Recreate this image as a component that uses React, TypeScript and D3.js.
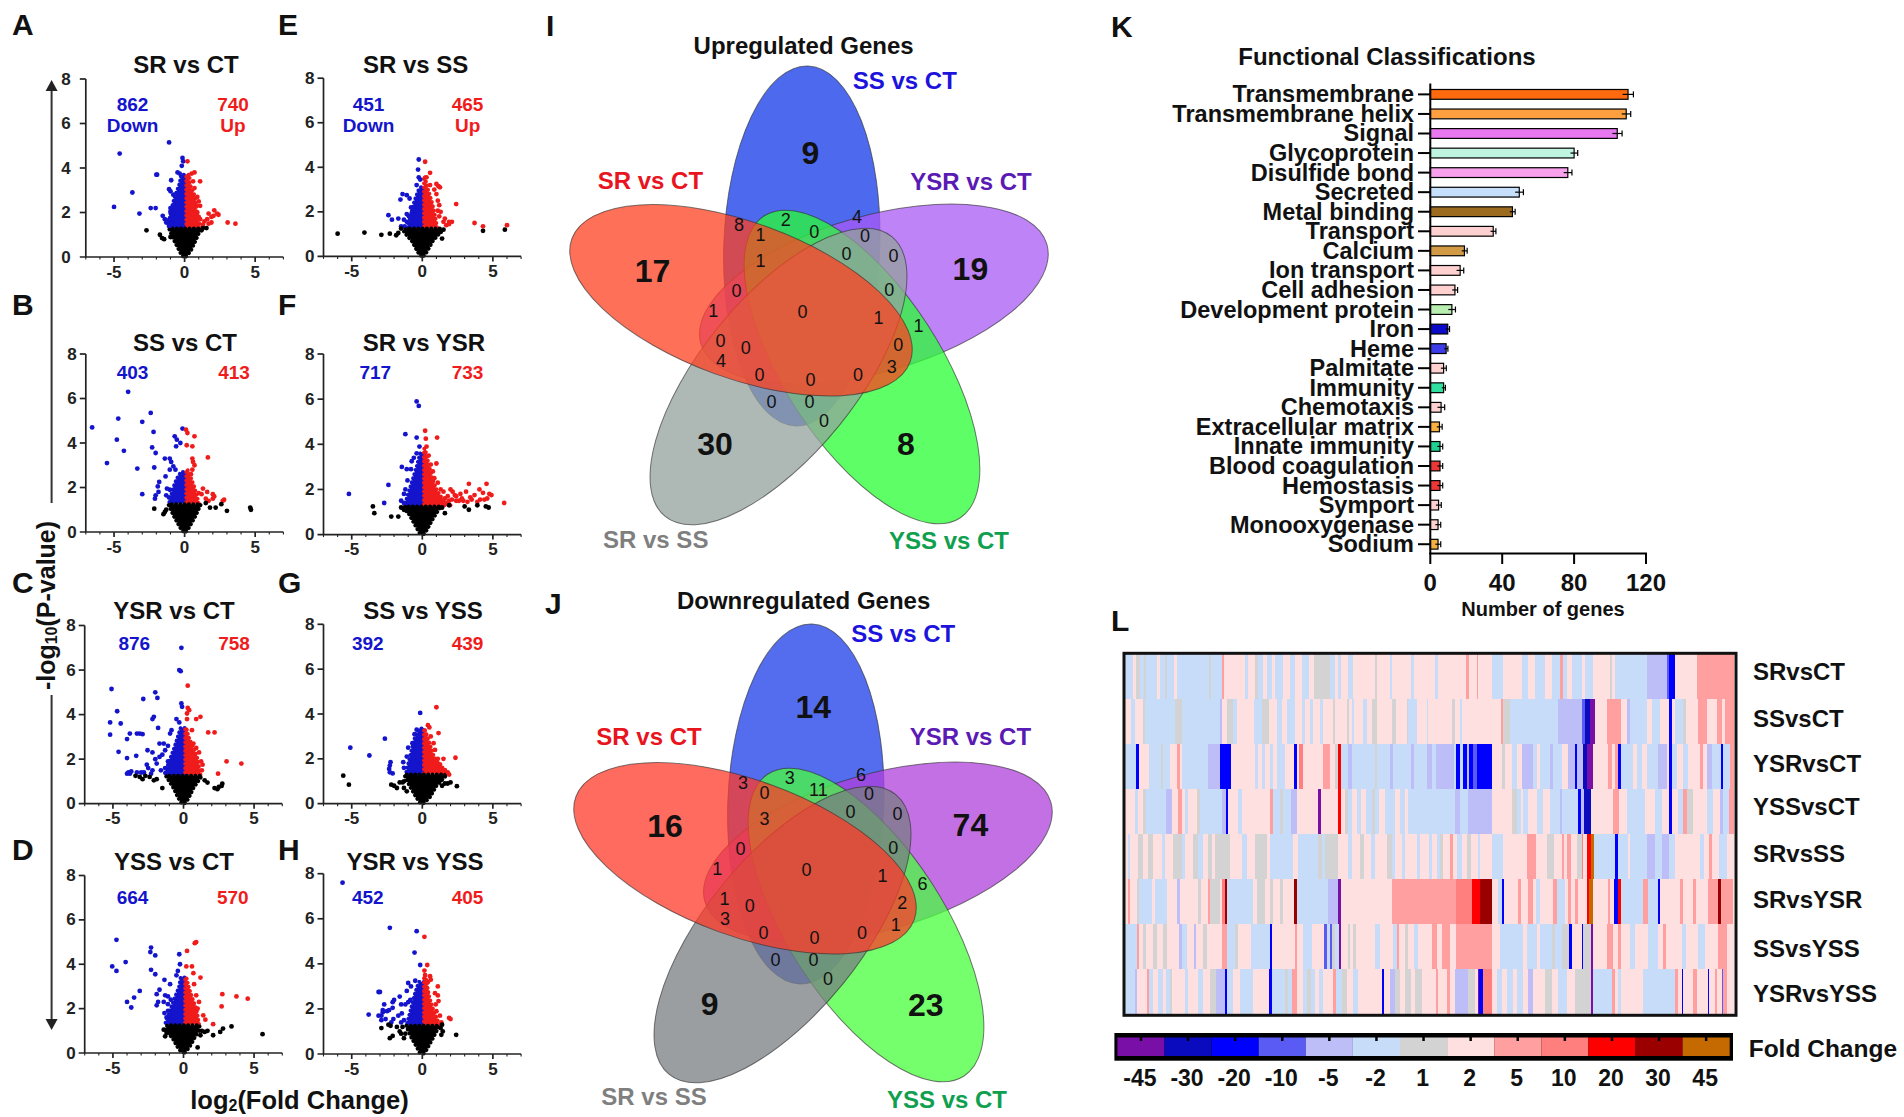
import * as d3 from 'd3';

type Pt = [number, number];
type Fan = [number, number, number];
type Run = [number, number];

const FONT = '"Liberation Sans", Arial, sans-serif';
const BLUE = '#1414cc';
const RED = '#f01c1c';

// ── Volcano plots: outliers, dense core kept as [y, xLeft, xRight] outlines ──
const srCtDown: Pt[] = [[-1.1, 5.15], [-4.6, 4.65], [-0.15, 4.45], [-0.1, 4.3], [-0.2, 4.1], [-0.5, 3.8], [-0.35, 3.75], [-2, 3.7], [-1.95, 3.7], [-3.7, 2.9], [-0.95, 3.45], [-1.1, 3.05], [-1, 2.95], [-0.8, 2.8], [-5, 2.25], [-2.4, 2.2], [-2.05, 2.2], [-3.2, 1.95], [-1, 2.2], [-1, 2.05], [-0.95, 1.8], [-1.55, 1.85], [-1.4, 1.7], [-1.25, 1.65], [-1.3, 1.55], [-1.1, 1.45], [-1.05, 1.4], [-0.85, 1.5], [-0.9, 1.7], [-0.8, 1.95]];
const srCtUp: Pt[] = [[0.2, 4.3], [0.7, 3.8], [0.5, 3.75], [1.1, 3.4], [0.7, 3.1], [0.6, 3.4], [0.9, 2.7], [1, 2.5], [1.1, 2.3], [2.1, 2.1], [2.3, 1.95], [1.7, 1.95], [2.05, 1.85], [1.9, 1.8], [2.4, 1.9], [3.05, 1.55], [3.6, 1.5], [1.6, 1.7], [1.4, 1.6], [1.7, 1.5], [1.9, 1.55], [1.3, 1.45], [1, 1.5], [1.1, 1.7], [0.9, 2], [1, 1.8], [0.85, 2.3]];
const srCtNs: Pt[] = [[-2.7, 1.2], [-1.75, 1], [-1.6, 0.85], [-1.45, 0.8], [-1, 0.9], [1.3, 1.3], [1.55, 1.3], [1.2, 1.2]];
const srCtDownFan: Fan[] = [[1.3, -1.15, 0.12], [2, -1, 0.12], [2.7, -0.7, 0.12], [3.3, -0.35, 0.12], [3.7, -0.25, 0.12]];
const srCtUpFan: Fan[] = [[1.3, 0.12, 1.1], [2, 0.12, 0.85], [2.7, 0.12, 0.75], [3.3, 0.12, 0.35], [3.7, 0.12, 0.35]];
const srCtNsFan: Fan[] = [[0.03, -0.1, 0.1], [0.08, -0.2, 0.2], [0.3, -0.38, 0.45], [0.75, -0.75, 0.78], [1.28, -1.1, 1.15]];

const ssCtDown: Pt[] = [[-4, 6.3], [-2.4, 5.35], [-4.7, 5.1], [-3, 4.95], [-6.55, 4.7], [-2.2, 4.5], [-0.15, 4.65], [-4.8, 4.15], [-0.7, 4.3], [-0.55, 4.15], [-0.3, 4], [-0.6, 3.85], [-2.3, 3.8], [-4.3, 3.65], [-2.05, 3.55], [-5.5, 3.1], [-1.4, 3.3], [-1.05, 3.3], [-0.95, 3.15], [-3.35, 2.85], [-2.15, 2.9], [-1.35, 2.5], [-0.8, 2.95], [-0.65, 2.8], [-1.05, 2.8], [-1.8, 2.25], [-1.9, 2.05], [-3, 1.7], [-1.85, 1.8], [-2.05, 1.65], [-1.25, 1.95], [-1.05, 1.9], [-1.3, 1.65], [-2.1, 1.5], [-1.1, 1.55]];
const ssCtUp: Pt[] = [[0.1, 4.6], [0.2, 4.45], [0.7, 4.3], [0.15, 3.9], [0.55, 3.85], [1.65, 3.35], [0.55, 3.3], [0.7, 3], [0.6, 3.15], [0.55, 2.8], [0.45, 2.6], [1.3, 1.95], [1.6, 1.8], [2, 1.7], [2.1, 1.6], [2, 1.5], [2.8, 1.45], [2.7, 1.4], [1.5, 1.5], [1.7, 1.4], [1.2, 1.7], [1, 1.75]];
const ssCtNs: Pt[] = [[-2.15, 1.05], [-1.5, 0.8], [-1.4, 0.9], [-1.3, 1], [1.5, 1.3], [1.8, 1.1], [2.2, 1.1], [2.6, 1.25], [3, 0.95], [4.65, 1.1], [4.7, 1]];
const ssCtDownFan: Fan[] = [[1.3, -1.1, 0.12], [2, -0.8, 0.12], [2.4, -0.55, 0.12], [2.7, -0.25, 0.12]];
const ssCtUpFan: Fan[] = [[1.3, 0.12, 1], [2, 0.12, 0.7], [2.6, 0.12, 0.35], [2.8, 0.12, 0.2]];
const ssCtNsFan: Fan[] = [[0.03, -0.1, 0.1], [0.08, -0.2, 0.2], [0.3, -0.4, 0.4], [0.7, -0.75, 0.75], [1.25, -1.15, 1.15]];

const ysrCtDown: Pt[] = [[-0.15, 7], [-0.3, 6], [-0.2, 5.95], [-5.1, 5.15], [-2, 5], [-1.85, 4.75], [-2.85, 4.7], [-0.15, 4.5], [-0.1, 4.35], [-4.7, 4.15], [-5.2, 3.65], [-4.45, 3.6], [-2.1, 3.9], [-2.2, 3.8], [-1.8, 3.4], [-0.5, 3.8], [-0.3, 3.65], [-5.2, 3.1], [-3.8, 3.15], [-3.3, 3.15], [-3.1, 3.15], [-2.9, 3.12], [-4, 2.9], [-4.6, 2.33], [-2.55, 2.4], [-2.2, 2.3], [-4, 2.05], [-3.35, 2.15], [-1.7, 2.7], [-1.4, 2.7], [-1.1, 2.6], [-0.95, 3.15], [-0.85, 3.3], [-2, 2], [-1.7, 2.1], [-1.5, 2.2], [-1.3, 2.4], [-2.6, 1.75], [-2.5, 1.6], [-2.2, 1.5], [-1.9, 1.8], [-3.9, 1.4], [-3.8, 1.35], [-4, 1.35], [-3.7, 1.45], [-3.3, 1.4], [-3, 1.4], [-2.8, 1.4], [-2.3, 1.35], [-1.6, 1.5], [-1.3, 1.6], [-1.1, 1.9]];
const ysrCtUp: Pt[] = [[0.3, 5.3], [0.3, 4.3], [0.4, 4.2], [0.25, 4.05], [1.2, 3.9], [0.9, 3.8], [0.25, 3.8], [1.75, 3.2], [2.2, 3.2], [0.6, 3.3], [3.05, 1.9], [4.1, 1.8], [2.45, 1.35], [0.7, 2.7], [0.9, 2.5], [1.1, 2.3], [1.25, 1.9], [1.35, 1.75], [1.3, 1.5], [0.8, 2.2]];
const ysrCtNs: Pt[] = [[-3.4, 1.25], [-3.1, 1.2], [-2.9, 1.1], [-2.7, 1.25], [-2.4, 1.2], [-2.1, 1.05], [-1.9, 1.1], [1.5, 1.05], [1.7, 0.95], [2.2, 0.7], [2.4, 0.65], [2.5, 0.75], [2.7, 0.8], [2.75, 0.9], [-1.5, 0.7]];
const ysrCtDownFan: Fan[] = [[1.3, -1.35, 0.12], [2, -0.95, 0.12], [2.5, -0.65, 0.12], [3, -0.4, 0.12], [3.4, -0.2, 0.12]];
const ysrCtUpFan: Fan[] = [[1.3, 0.12, 1.2], [2, 0.12, 1], [2.5, 0.12, 0.7], [3, 0.12, 0.35], [3.4, 0.12, 0.2]];
const ysrCtNsFan: Fan[] = [[0.03, -0.1, 0.1], [0.08, -0.2, 0.2], [0.3, -0.4, 0.4], [0.7, -0.7, 0.7], [1.25, -1.25, 1.3]];

const yssCtDown: Pt[] = [[-4.75, 5.1], [-2.3, 4.75], [-2.35, 4.55], [-2, 4.4], [-0.3, 4.45], [-4.1, 4.1], [-5.05, 3.9], [-4.75, 3.7], [-2.3, 3.75], [-2, 3.55], [-0.25, 4], [-0.4, 3.7], [-0.5, 3.5], [-1.35, 3.3], [-1.7, 2.85], [-3.1, 2.8], [-3.5, 2.5], [-4, 2.3], [-3.7, 2.05], [-1.9, 2.65], [-1.3, 2.6], [-1.1, 2.55], [-0.95, 3.1], [-1.8, 2.3], [-1.9, 2.15], [-1.4, 2.3], [-1.1, 2.2], [-1.35, 1.8], [-1.2, 1.6], [-1.1, 1.9], [-0.9, 2.4]];
const yssCtUp: Pt[] = [[0.25, 4.6], [0.8, 4.95], [0.9, 5], [0.6, 3.9], [0.2, 3.9], [0.7, 3.6], [1.2, 3.4], [0.75, 3.1], [2.75, 2.65], [3.75, 2.55], [4.55, 2.45], [2.7, 2.1], [2.1, 1.3], [1.4, 1.7], [1.55, 1.5], [1, 2], [1.1, 2.3], [0.9, 2.6]];
const yssCtNs: Pt[] = [[-1.4, 1.05], [-1.2, 0.9], [-0.9, 1.2], [1.3, 1], [1.5, 0.95], [1.7, 1], [2.1, 0.8], [2.6, 0.95], [2.8, 1.1], [3.4, 1.2], [5.6, 0.85], [1, 0.25], [1.2, 0.8], [-1.3, 0.75]];
const yssCtDownFan: Fan[] = [[1.3, -1.3, 0.12], [2, -0.9, 0.12], [2.5, -0.6, 0.12], [3, -0.3, 0.12], [3.4, -0.2, 0.12]];
const yssCtUpFan: Fan[] = [[1.3, 0.12, 1.1], [2, 0.12, 0.9], [2.5, 0.12, 0.6], [3, 0.12, 0.35], [3.4, 0.12, 0.2]];
const yssCtNsFan: Fan[] = [[0.03, -0.1, 0.1], [0.08, -0.2, 0.2], [0.3, -0.45, 0.45], [0.7, -0.8, 0.8], [1, -1.3, 1.1], [1.25, -1.15, 1.15]];

const srSsDown: Pt[] = [[-0.25, 4.35], [-0.3, 3.9], [-0.25, 3.55], [-0.15, 3.45], [-0.4, 3.2], [-1.4, 2.8], [-1.55, 2.55], [-1.1, 2.75], [-0.9, 2.6], [-2.4, 1.85], [-2.15, 1.65], [-1.7, 1.7], [-1.1, 1.9], [-0.95, 1.8], [-1.3, 1.65], [-1.1, 1.55], [-1.5, 1.35], [-1.25, 1.35], [-0.8, 2.2], [-0.75, 1.95]];
const srSsUp: Pt[] = [[0.2, 4.25], [0.55, 3.75], [0.3, 3.55], [1, 3.25], [1.15, 3.15], [1.25, 3.1], [0.55, 3.2], [0.85, 3], [1, 2.8], [2.4, 2.35], [1.1, 2.5], [1.2, 2.3], [3.7, 1.5], [4.3, 1.35], [6, 1.4], [1.9, 1.55], [2.1, 1.55], [1.6, 1.7], [1.9, 1.45], [1.7, 1.4], [1.5, 1.55], [1.2, 1.8], [1.3, 2], [1.1, 2.05]];
const srSsNs: Pt[] = [[-6, 1.02], [-4.1, 1.07], [-2.9, 0.97], [-2.3, 1.02], [-1.85, 0.95], [-1.7, 1.05], [-1.5, 1.25], [4.3, 1.15], [5.85, 1.2], [1.4, 0.8], [1.3, 1.1], [1.5, 1.2], [-1.15, 1.2]];
const srSsDownFan: Fan[] = [[1.3, -1.05, 0.12], [2, -0.75, 0.12], [2.5, -0.55, 0.12], [3, -0.25, 0.12], [3.1, -0.12, 0.12]];
const srSsUpFan: Fan[] = [[1.3, 0.12, 1.05], [2, 0.12, 0.85], [2.5, 0.12, 0.65], [3, 0.12, 0.4], [3.5, 0.12, 0.2], [3.6, 0.12, 0.15]];
const srSsNsFan: Fan[] = [[0.03, -0.1, 0.1], [0.08, -0.2, 0.2], [0.3, -0.4, 0.4], [0.7, -0.75, 0.75], [1.1, -1.3, 1.3], [1.25, -1.3, 1.35]];

const srYsrDown: Pt[] = [[-0.4, 5.9], [-0.25, 5.7], [-1.2, 4.45], [-0.4, 4.3], [-0.2, 3.9], [-0.4, 3.6], [-0.6, 3.4], [-0.75, 3.25], [-1.45, 3], [-1.1, 2.9], [-0.8, 2.9], [-2.4, 2.2], [-5.2, 1.8], [-2.7, 1.4], [-1.05, 2.4], [-1.2, 2], [-1.3, 1.8], [-1.5, 1.5], [-1.3, 1.4]];
const srYsrUp: Pt[] = [[0.2, 4.6], [0.25, 4.25], [1.05, 4.3], [0.3, 3.9], [0.45, 3.5], [0.6, 3.1], [1, 3.15], [0.75, 2.8], [0.85, 2.5], [1.1, 2.3], [3.3, 2.25], [4.55, 2.25], [4.05, 2], [4.75, 1.8], [4.3, 1.85], [4.9, 1.75], [4.6, 1.6], [3.4, 1.65], [3.7, 1.75], [3.1, 1.9], [2.7, 1.8], [2.4, 1.7], [2, 2], [2.15, 1.9], [2.3, 1.75], [2.6, 1.5], [1.8, 1.7], [1.9, 1.5], [1.6, 1.6], [2.9, 1.5], [3.2, 1.45], [3.9, 1.45], [4.4, 1.55], [5.8, 1.4], [1.5, 1.9], [2.1, 1.55], [2.4, 1.5], [3.5, 1.55], [4.1, 1.55], [2.8, 1.6], [1.3, 2]];
const srYsrNs: Pt[] = [[-3.5, 1.25], [-3.4, 0.95], [-2.2, 0.8], [-1.7, 0.8], [-1.5, 1.2], [-1.3, 1.1], [-1.1, 1.05], [3, 1.25], [3.3, 1.1], [3.9, 1.3], [4.5, 1.25], [4.7, 1.2], [1.9, 1.3], [1.6, 0.95], [1.4, 1.2]];
const srYsrDownFan: Fan[] = [[1.3, -1.25, 0.12], [2, -0.9, 0.12], [2.5, -0.65, 0.12], [3, -0.4, 0.12], [3.6, -0.15, 0.12]];
const srYsrUpFan: Fan[] = [[1.3, 0.12, 2], [1.6, 0.12, 1.4], [2, 0.12, 1], [2.5, 0.12, 0.7], [3, 0.12, 0.5], [3.5, 0.12, 0.3], [3.8, 0.12, 0.2]];
const srYsrNsFan: Fan[] = [[0.03, -0.1, 0.1], [0.08, -0.2, 0.2], [0.3, -0.4, 0.4], [0.7, -0.75, 0.75], [1.25, -1.25, 1.3]];

const ssYssDown: Pt[] = [[-0.15, 4.05], [-2.65, 2.9], [-5.1, 2.5], [-3.75, 2.15], [-2.25, 1.85], [-2.3, 1.7], [-2.35, 1.55], [-2.3, 1.4], [-2.1, 1.35], [-1.35, 1.85], [-1.3, 1.6], [-1.1, 2.1], [-1, 2.5], [-0.7, 2.7], [-0.55, 3.1], [-0.4, 3.3]];
const ssYssUp: Pt[] = [[1, 4.3], [0.4, 3.5], [0.5, 3.4], [1.15, 3.15], [0.6, 3], [0.8, 2.7], [0.9, 2.4], [1.1, 2], [1.5, 2], [2.35, 2.05], [1.4, 1.6], [1.6, 1.5], [1.8, 1.4], [1.9, 1.3], [1.25, 1.75]];
const ssYssNs: Pt[] = [[-5.6, 1.25], [-5.2, 0.85], [-2.2, 0.85], [-2, 0.8], [-1.8, 0.7], [-1.6, 0.95], [-1.4, 0.95], [-1.3, 0.7], [-1.1, 0.55], [-1.3, 1], [1.4, 0.8], [1.6, 0.9], [1.8, 0.9], [2, 0.95], [2.45, 0.78], [1.3, 1.05]];
const ssYssDownFan: Fan[] = [[1.35, -1.15, 0.12], [2.16, -0.85, 0.12], [2.9, -0.55, 0.12], [3.35, -0.2, 0.12]];
const ssYssUpFan: Fan[] = [[1.35, 0.12, 1.55], [2.16, 0.12, 0.78], [2.9, 0.12, 0.4], [3.35, 0.12, 0.15]];
const ssYssNsFan: Fan[] = [[0.03, -0.1, 0.1], [0.08, -0.2, 0.2], [0.3, -0.45, 0.55], [0.8, -0.9, 1], [1.3, -1.28, 1.75]];

const ysrYssDown: Pt[] = [[-5.65, 7.6], [-2.3, 5.6], [-0.4, 5.45], [-0.55, 4.5], [-0.15, 3.95], [-0.5, 3.25], [-3.1, 2.75], [-3, 2.75], [-1, 3.15], [-0.8, 3], [-1.1, 2.8], [-1.6, 2.55], [-2, 2.4], [-2.1, 2.3], [-2.7, 2.2], [-2.1, 2.05], [-1.5, 2.2], [-1.2, 2.2], [-2.8, 1.95], [-2.5, 1.9], [-2.35, 1.95], [-3.8, 1.75], [-3.1, 1.7], [-2.9, 1.7], [-2.9, 1.5], [-2.6, 1.55], [-2.8, 1.85], [-1.7, 1.7], [-1.45, 1.8], [-1.3, 1.5], [-1.5, 1.4], [-2.2, 1.4], [-2.05, 1.55], [-1, 2.3], [-0.85, 2.4]];
const ysrYssUp: Pt[] = [[0.15, 5.2], [0.35, 3.95], [0.15, 3.7], [0.2, 3.5], [0.55, 3.45], [0.6, 3.3], [1.1, 3], [0.4, 3.2], [0.9, 2.7], [1.1, 2.6], [1.15, 2.35], [1.9, 1.6], [2, 1.55], [0.95, 2.2], [1.25, 1.7], [1.35, 1.4], [1, 1.9]];
const ysrYssNs: Pt[] = [[-2.4, 1.3], [-2.25, 1.25], [-2.3, 0.7], [-2.1, 0.8], [-2.9, 1.15], [-1.8, 1.2], [-1.6, 1], [-1.5, 0.9], [-1.3, 0.7], [-1.2, 0.9], [1.4, 1.3], [1.45, 1], [1.35, 0.85], [2.4, 0.85], [1.3, 1.15], [-1.4, 1.2]];
const ysrYssDownFan: Fan[] = [[1.3, -1.1, 0.12], [2, -0.8, 0.12], [2.5, -0.6, 0.12], [3, -0.35, 0.12], [3.2, -0.2, 0.12]];
const ysrYssUpFan: Fan[] = [[1.3, 0.12, 1.2], [2, 0.12, 0.75], [2.5, 0.12, 0.5], [3, 0.12, 0.35], [3.5, 0.12, 0.2]];
const ysrYssNsFan: Fan[] = [[0.03, -0.1, 0.1], [0.08, -0.2, 0.2], [0.3, -0.38, 0.4], [0.7, -0.75, 0.75], [1.25, -1.15, 1.2]];

const volcanoes = [
  { tag: 'A', title: 'SR vs CT', tagY: 35, tx: 186, ty: 64, left: 85.8, y8: 79, y0: 257, lab: 15, down: 862, up: 740, notes: true, dx: 132.6, ux: 233, cy: 104, pts: [srCtDown, srCtUp, srCtNs], fans: [srCtDownFan, srCtUpFan, srCtNsFan] },
  { tag: 'B', title: 'SS vs CT', tagY: 315, tx: 185, ty: 342, left: 85.8, y8: 354, y0: 532, lab: 9, down: 403, up: 413, notes: false, dx: 132.6, ux: 234, cy: 372.5, pts: [ssCtDown, ssCtUp, ssCtNs], fans: [ssCtDownFan, ssCtUpFan, ssCtNsFan] },
  { tag: 'C', title: 'YSR vs CT', tagY: 593, tx: 174, ty: 610.5, left: 84.7, y8: 625.5, y0: 803.7, lab: 9, down: 876, up: 758, notes: false, dx: 134.3, ux: 234, cy: 643.5, pts: [ysrCtDown, ysrCtUp, ysrCtNs], fans: [ysrCtDownFan, ysrCtUpFan, ysrCtNsFan] },
  { tag: 'D', title: 'YSS vs CT', tagY: 860, tx: 174, ty: 861, left: 84.7, y8: 875.5, y0: 1053, lab: 9, down: 664, up: 570, notes: false, dx: 132.6, ux: 232.8, cy: 897, pts: [yssCtDown, yssCtUp, yssCtNs], fans: [yssCtDownFan, yssCtUpFan, yssCtNsFan] },
  { tag: 'E', title: 'SR vs SS', tagY: 35, tx: 415.6, ty: 64, left: 323.5, y8: 78.2, y0: 256.4, lab: 9, down: 451, up: 465, notes: true, dx: 368.5, ux: 467.6, cy: 104, pts: [srSsDown, srSsUp, srSsNs], fans: [srSsDownFan, srSsUpFan, srSsNsFan] },
  { tag: 'F', title: 'SR vs YSR', tagY: 315, tx: 424, ty: 342, left: 323.5, y8: 354, y0: 534.6, lab: 9, down: 717, up: 733, notes: false, dx: 375.3, ux: 467.6, cy: 372.5, pts: [srYsrDown, srYsrUp, srYsrNs], fans: [srYsrDownFan, srYsrUpFan, srYsrNsFan] },
  { tag: 'G', title: 'SS vs YSS', tagY: 593, tx: 423, ty: 610.5, left: 323.5, y8: 624.3, y0: 803.7, lab: 9, down: 392, up: 439, notes: false, dx: 367.8, ux: 467.6, cy: 643.5, pts: [ssYssDown, ssYssUp, ssYssNs], fans: [ssYssDownFan, ssYssUpFan, ssYssNsFan] },
  { tag: 'H', title: 'YSR vs YSS', tagY: 860, tx: 415, ty: 861, left: 323.5, y8: 873.7, y0: 1054, lab: 9, down: 452, up: 405, notes: false, dx: 367.8, ux: 467.6, cy: 897, pts: [ysrYssDown, ysrYssUp, ysrYssNs], fans: [ysrYssDownFan, ysrYssUpFan, ysrYssNsFan] },
];

// ── Venn diagrams ──
const upCounts = [8, 1, 2, 0, 4, 0, 0, 0, 1, 0, 0, 1, 0, 1, 1, 0, 0, 0, 4, 3, 0, 0, 0, 0, 0, 0];
const downCounts = [3, 0, 3, 11, 6, 0, 0, 0, 3, 0, 0, 1, 0, 1, 6, 1, 0, 2, 3, 1, 0, 0, 0, 0, 0, 0];
const countSpots: Pt[] = [[738.9, 225.4], [760.4, 234.5], [785.7, 219.9], [814.3, 231.9], [857.1, 217.4], [865, 236.3], [846.4, 253.7], [893.6, 255.5], [760.4, 261], [736.4, 290.8], [889.3, 290], [713.2, 310.8], [802.5, 311.5], [878.6, 318], [918.6, 326], [720.4, 340.6], [745.7, 347.9], [898.2, 344.6], [721, 361], [891.8, 367], [759.6, 375], [857.9, 375], [810.4, 379.9], [771.4, 402.4], [809.6, 401.7], [823.9, 420.9]];
const setNames = ['SS vs CT', 'YSR vs CT', 'YSS vs CT', 'SR vs SS', 'SR vs CT'];
const setTextColors = ['#1c14dc', '#5a1ab4', '#0fa04f', '#7f7f7f', '#e8141e'];
const upFills = ['#1237e8', '#aa5af6', '#28ff33', '#93a29c', '#ff4020'];
const downFills = ['#1a3ce8', '#b040dc', '#48ff3c', '#787e82', '#ff3a28'];
const upUnique = [9, 19, 8, 30, 17];
const downUnique = [14, 74, 23, 9, 16];

const ellipses = [
  { cx: 801.8, cy: 246, rot: 2 },
  { cx: 873.9, cy: 294, rot: 74 },
  { cx: 862, cy: 367, rot: -33 },
  { cx: 778.5, cy: 376.6, rot: 39 },
  { cx: 741, cy: 300.3, rot: -70 },
];

// ── Functional classification ──
const funcNames = ['Transmembrane', 'Transmembrane helix', 'Signal', 'Glycoprotein', 'Disulfide bond', 'Secreted', 'Metal binding', 'Transport', 'Calcium', 'Ion transport', 'Cell adhesion', 'Development protein', 'Iron', 'Heme', 'Palmitate', 'Immunity', 'Chemotaxis', 'Extracellular matrix', 'Innate immunity', 'Blood coagulation', 'Hemostasis', 'Symport', 'Monooxygenase', 'Sodium'];
const funcGenes = [110, 109, 104, 80, 76.5, 49.5, 45.7, 35, 19, 16.6, 13.7, 12, 9.7, 8.8, 7.4, 7.4, 6, 5.1, 5.4, 5.4, 5.4, 4.6, 4.3, 4.3];
const funcErr = [3, 2.5, 2.7, 2, 2.3, 2.3, 1.5, 1.5, 1.5, 2, 1.5, 2, 1, 1, 1.5, 1, 2, 1.5, 1.5, 1.5, 1.5, 1.5, 1.5, 1.5];
const funcColors = ['#ff6a0f', '#ffa040', '#e878f0', '#bff5e0', '#f9a0ec', '#c6dffa', '#9c6b20', '#ffd0d0', '#d39a45', '#ffd0d0', '#ffd0d0', '#b8efb0', '#0a0ac8', '#3c3ce8', '#ffd0d0', '#30e0a0', '#ffd0d0', '#f8b040', '#20d090', '#ee3838', '#ee3838', '#ffd0d0', '#ffd0d0', '#f4b040'];
const funcTicks = [0, 40, 80, 120];

// ── Heatmap: each row is a list of [last gene column, fold change] runs ──
const foldLevels = [-45, -30, -20, -10, -5, -2, 1, 2, 5, 10, 20, 30, 45];
const foldColors = ['#7a0fa8', '#0a0abe', '#0000ff', '#5a5af5', '#bdbdf8', '#c6dcf8', '#d3d3d3', '#ffe0e0', '#ff9f9f', '#ff7f7f', '#ff0000', '#9b0000', '#c46a00'];
const heatNames = ['SRvsCT', 'SSvsCT', 'YSRvsCT', 'YSSvsCT', 'SRvsSS', 'SRvsYSR', 'SSvsYSS', 'YSRvsYSS'];
const heatLabelY = [671.7, 718, 763, 806, 853, 899, 948, 993];
const srCtRow: Run[] = [[8, -2], [11, 2], [15, 1], [19, -2], [21, 1], [32, -2], [35, 2], [40, -2], [42, 1], [49, -2], [52, 2], [84, -2], [86, 1], [97, -2], [99, 5], [120, 2], [123, -2], [130, 2], [133, 1], [138, -2], [142, 2], [147, -2], [150, 2], [158, -2], [165, 2], [170, -2], [177, 2], [184, -2], [189, 2], [195, 1], [205, 1], [210, -2], [213, 2], [216, -2], [223, 2], [228, -2], [250, 2], [252, 1], [265, 2], [267, -2], [286, 2], [289, -2], [310, 2], [313, -2], [341, 2], [344, 5], [352, 2], [353, 5], [367, 2], [378, -2], [397, 2], [403, -2], [410, 2], [420, -2], [427, 2], [435, -2], [438, 5], [442, -2], [447, 2], [457, -2], [460, 2], [468, -2], [485, 2], [487, 1], [490, 2], [522, -2], [542, -5], [544, -10], [550, -20], [572, 2], [609, 5]];
const ssCtRow: Run[] = [[6, 2], [10, -2], [18, 2], [20, 1], [50, -2], [57, 1], [95, -2], [97, -5], [102, 2], [108, 1], [112, -2], [129, 2], [137, -2], [144, 1], [152, 2], [157, -2], [162, 2], [170, -2], [177, 2], [180, -2], [185, 2], [188, -2], [195, 2], [198, -2], [208, 2], [210, 1], [222, 2], [224, 1], [227, 2], [229, -2], [238, 2], [242, -2], [247, 2], [252, 1], [267, 2], [271, 1], [282, 2], [283, 1], [292, -2], [302, 2], [303, -2], [327, 2], [330, 1], [335, 2], [337, -2], [376, 2], [378, 5], [385, 1], [433, -2], [457, -5], [460, -10], [465, -30], [470, -45], [482, 2], [496, 5], [502, 2], [505, -5], [522, -2], [527, 2], [535, -2], [544, 2], [547, -20], [550, 2], [558, -2], [561, 1], [573, 2], [582, 5], [592, 2], [597, 5], [600, 2], [609, 5]];
const ysrCtRow: Run[] = [[11, -2], [14, -20], [24, 2], [36, -2], [38, 1], [45, -2], [52, 2], [55, 5], [57, 2], [83, -2], [95, -5], [106, -20], [130, 2], [133, -2], [137, 2], [140, -2], [145, 2], [148, -2], [152, 2], [160, -2], [169, 2], [172, -20], [174, 2], [178, 10], [198, 2], [205, 5], [210, 2], [213, 1], [216, 20], [223, -2], [227, -5], [250, -2], [252, 1], [265, -2], [268, -5], [286, -2], [289, -5], [302, -2], [307, -5], [311, -2], [329, -5], [331, -2], [335, -20], [338, -2], [342, -20], [344, -5], [348, -20], [352, -10], [367, -20], [377, 2], [380, 1], [387, 2], [392, -2], [397, 2], [403, -5], [408, -5], [412, -2], [415, 2], [425, -2], [428, -5], [437, -2], [443, 2], [450, -5], [452, -20], [458, -5], [462, -30], [468, -45], [483, 2], [487, 5], [490, 2], [493, 5], [496, -20], [508, -2], [512, 2], [517, -2], [522, 2], [533, -2], [542, -5], [544, 2], [547, -20], [552, -2], [558, 2], [563, -2], [575, 2], [578, 5], [582, 2], [587, -5], [596, -2], [598, -20], [605, -2], [609, 5]];
const yssCtRow: Run[] = [[10, 2], [13, -2], [18, 2], [21, 1], [41, -2], [47, -5], [53, 2], [57, 5], [60, 2], [63, -2], [72, 2], [75, 1], [97, -2], [101, -5], [103, -20], [113, 2], [117, -2], [145, 2], [148, 5], [155, -2], [158, 1], [166, -2], [172, -5], [193, 2], [196, -45], [211, 2], [213, 2], [216, 20], [220, 2], [223, 1], [227, -2], [232, 2], [236, -2], [241, 2], [247, -2], [250, 1], [254, -2], [260, 2], [270, -2], [275, 2], [280, -2], [283, 2], [330, -2], [335, -5], [343, -2], [367, -5], [387, 2], [392, 1], [396, -2], [398, 2], [403, -2], [412, 2], [418, -2], [425, 2], [435, -2], [437, -5], [453, -2], [456, -20], [459, -5], [466, -30], [488, 2], [494, 5], [502, 2], [520, -2], [530, 2], [537, -2], [544, 2], [547, -20], [553, 2], [558, -2], [562, 5], [568, 1], [582, 2], [588, -2], [595, 2], [598, -5], [604, -2], [609, 5]];
const srSsRow: Run[] = [[3, 2], [5, -2], [13, 2], [18, 1], [23, 2], [28, 1], [37, 2], [40, -2], [48, 2], [57, 1], [60, -2], [68, 2], [73, 1], [78, -2], [83, 2], [87, 1], [90, 2], [105, 1], [108, 2], [117, 2], [122, -2], [130, 2], [142, 1], [145, 2], [168, -2], [173, 2], [193, -2], [197, 1], [200, -2], [213, 1], [223, 2], [227, -2], [235, 2], [239, 1], [246, 2], [250, -2], [262, 2], [267, 1], [270, -2], [277, 2], [280, -2], [292, 2], [295, -2], [304, 2], [307, -2], [312, 2], [315, -2], [318, 1], [325, 2], [328, 5], [332, 2], [337, -2], [342, 2], [346, 1], [353, 2], [355, -2], [367, 2], [378, -2], [402, 2], [411, 5], [422, 2], [429, 1], [437, 2], [439, 5], [442, 2], [446, 5], [452, 2], [457, 1], [458, 10], [462, 2], [466, 20], [469, 45], [490, -2], [493, -20], [503, -2], [505, 2], [522, -2], [530, -5], [537, -2], [544, -5], [550, -2], [575, 2], [579, -2], [584, 2], [587, 5], [594, 2], [602, -2], [609, 2]];
const srYsrRow: Run[] = [[3, 2], [5, 5], [12, 2], [14, 1], [27, -2], [30, 2], [42, -2], [52, 2], [55, -5], [73, 2], [76, 1], [83, 2], [85, 5], [95, 1], [97, 2], [100, 10], [102, 30], [128, -2], [132, 2], [140, 1], [145, 2], [148, 1], [155, 2], [158, 1], [169, 2], [172, 30], [203, -2], [213, -5], [216, -45], [267, 2], [331, 5], [347, 10], [355, 20], [367, 30], [373, 2], [377, -2], [379, -20], [393, 2], [396, 5], [403, 2], [408, 5], [411, 2], [415, -2], [428, 2], [432, 5], [440, -2], [443, 2], [446, 5], [450, 2], [453, 5], [462, 2], [464, 20], [468, 45], [483, 2], [485, 5], [489, 2], [493, -20], [496, 20], [518, -2], [523, 5], [533, -2], [535, -20], [555, 2], [558, 5], [568, 2], [571, 5], [583, 2], [593, 5], [596, 30], [608, 5], [609, 2]];
const ssYssRow: Run[] = [[12, -2], [14, 5], [18, 2], [21, 1], [28, 2], [32, 1], [38, 2], [42, 1], [54, 2], [57, -5], [62, -2], [69, 2], [71, -5], [78, 2], [82, 1], [97, 2], [102, 5], [110, -2], [113, 1], [126, 2], [145, -2], [147, -20], [170, 2], [172, 5], [178, 2], [187, -2], [199, 2], [202, -10], [205, -2], [207, -10], [210, 1], [214, -2], [216, -45], [223, 2], [225, 1], [228, 2], [231, 1], [250, 2], [255, -2], [268, 2], [272, -2], [274, 5], [280, 2], [283, 1], [289, 2], [293, -2], [307, 2], [312, 5], [317, 2], [325, 5], [331, 2], [367, 5], [375, 2], [398, -2], [402, 2], [412, -2], [415, 2], [427, -2], [430, 1], [437, -2], [444, 1], [447, -20], [457, 2], [458, -20], [466, 1], [468, -45], [482, 2], [488, 5], [493, 2], [496, 5], [505, 2], [510, -2], [523, 2], [533, -2], [538, 2], [541, 5], [557, 2], [561, -2], [573, 2], [580, -2], [593, 2], [602, 5], [609, 2]];
const ysrYssRow: Run[] = [[10, -2], [12, -5], [22, 2], [24, 5], [28, -2], [33, 2], [38, -2], [41, 2], [45, -2], [47, 1], [60, 2], [63, -2], [73, 2], [78, -2], [85, 2], [91, 1], [100, -5], [102, -20], [108, -2], [115, 2], [128, -2], [144, 2], [147, -20], [160, -2], [163, 1], [167, -2], [172, 5], [178, 2], [182, -2], [186, 1], [190, -2], [194, 2], [198, -2], [208, 2], [211, 5], [217, -2], [222, 1], [228, 2], [233, -2], [257, 2], [259, -20], [265, 2], [270, -5], [275, 1], [280, 2], [286, 1], [290, 2], [297, 1], [311, 2], [313, 5], [322, 2], [325, 5], [330, 2], [343, -5], [350, 1], [353, 2], [354, -45], [358, -20], [367, 10], [372, 2], [377, -2], [382, 2], [388, -2], [392, 2], [398, -2], [403, 2], [408, -5], [413, 2], [420, 2], [427, 1], [433, 2], [442, -2], [450, 2], [466, 1], [468, -45], [487, -2], [490, 5], [493, 2], [496, -2], [518, 2], [550, -2], [553, 5], [557, 2], [558, -20], [568, 2], [572, 5], [583, 2], [584, -20], [590, 2], [592, 5], [597, 2], [598, -10], [602, 5], [609, 2]];
const heatRows = [srCtRow, ssCtRow, ysrCtRow, yssCtRow, srSsRow, srYsrRow, ssYssRow, ysrYssRow];

const foldColor = d3.scaleOrdinal<number, string>().domain(foldLevels).range(foldColors);

function Volcano({ v }: { v: (typeof volcanoes)[number] }) {
  const axisW = 197.6;
  const x = d3.scaleLinear().domain([-7, 7]).range([v.left, v.left + axisW]);
  const y = d3.scaleLinear().domain([0, 8]).range([v.y0, v.y8]);
  const fan = d3.area<Fan>().y((d) => y(d[0])).x0((d) => x(d[1])).x1((d) => x(d[2]));
  const colors = [BLUE, RED, '#000'];
  const minor = d3.range(-7, 8);
  return (
    <g>
      <text x={v.tag === 'A' || v.tag === 'B' || v.tag === 'C' || v.tag === 'D' ? 12 : 278} y={v.tagY} fontSize={30} fontWeight={700}>{v.tag}</text>
      <text x={v.tx} y={v.ty} fontSize={24} fontWeight={700} textAnchor="middle" dominantBaseline="central">{v.title}</text>
      <g fontSize={19} fontWeight={700} textAnchor="middle" dominantBaseline="central">
        <text x={v.dx} y={v.cy} fill={BLUE}>{v.down}</text>
        <text x={v.ux} y={v.cy} fill={RED}>{v.up}</text>
        {v.notes && <text x={v.dx} y={v.cy + 21} fill={BLUE}>Down</text>}
        {v.notes && <text x={v.ux} y={v.cy + 21} fill={RED}>Up</text>}
      </g>
      {v.fans.map((f, i) => (
        <path key={i} d={fan(f) as string} fill={colors[i]} stroke={colors[i]} strokeWidth={4} strokeLinecap="round" strokeDasharray="0.1 4.2" />
      ))}
      {v.pts.map((set, i) =>
        set.map((p, j) => <circle key={`${i}-${j}`} cx={x(p[0])} cy={y(p[1])} r={2.4} fill={colors[i]} />),
      )}
      <g stroke="#222" strokeWidth={1.7} fill="none">
        <line x1={x(-7)} x2={x(-7)} y1={y(0)} y2={y(8)} />
        <line x1={x(-7) - 6} x2={x(7)} y1={y(0)} y2={y(0)} />
        {[2, 4, 6, 8].map((t) => <line key={t} x1={x(-7) - 6} x2={x(-7)} y1={y(t)} y2={y(t)} />)}
        {minor.map((t) => <line key={t} x1={x(t)} x2={x(t)} y1={y(0)} y2={y(0) + (t % 5 === 0 ? 5 : 2.5)} strokeWidth={t % 5 === 0 ? 1.7 : 1.1} />)}
      </g>
      <g fontSize={17} fontWeight={700} fill="#222">
        {[0, 2, 4, 6, 8].map((t) => (
          <text key={t} x={v.left - v.lab} y={y(t)} textAnchor="end" dominantBaseline="central">{t}</text>
        ))}
        {[-5, 0, 5].map((t) => (
          <text key={t} x={x(t)} y={v.y0 + 15} textAnchor="middle" dominantBaseline="central">{t}</text>
        ))}
      </g>
    </g>
  );
}

function Venn({ title, titleY, fills, counts, unique, bigSpots, labelSpots, dx, dy }: {
  title: string; titleY: number; fills: string[]; counts: number[]; unique: number[]; bigSpots: Pt[]; labelSpots: Pt[]; dx: number; dy: number;
}) {
  return (
    <g>
      <text x={803.6} y={titleY} fontSize={24} fontWeight={700} textAnchor="middle" dominantBaseline="central">{title}</text>
      {ellipses.map((e, i) => (
        <ellipse
          key={i}
          cx={e.cx + dx}
          cy={e.cy + dy}
          rx={78}
          ry={180}
          transform={`rotate(${e.rot} ${e.cx + dx} ${e.cy + dy})`}
          fill={fills[i]}
          fillOpacity={0.75}
          stroke="#333"
          strokeOpacity={0.65}
          strokeWidth={1}
        />
      ))}
      {counts.map((c, i) => (
        <text key={i} x={countSpots[i][0] + dx} y={countSpots[i][1] + dy} fontSize={18} textAnchor="middle" dominantBaseline="central" fill="#111">{c}</text>
      ))}
      {unique.map((c, i) => (
        <text key={i} x={bigSpots[i][0]} y={bigSpots[i][1]} fontSize={32} fontWeight={700} textAnchor="middle" dominantBaseline="central">{c}</text>
      ))}
      {setNames.map((n, i) => (
        <text key={n} x={labelSpots[i][0]} y={labelSpots[i][1]} fontSize={24} fontWeight={700} textAnchor="middle" dominantBaseline="central" fill={setTextColors[i]}>{n}</text>
      ))}
    </g>
  );
}

function Functional() {
  const x = d3.scaleLinear().domain([0, 120]).range([1430.3, 1646]);
  const y = d3.scaleBand().domain(funcNames).range([84.6, 554]).paddingInner(0.5).paddingOuter(0.25);
  return (
    <g>
      <text x={1111} y={37} fontSize={30} fontWeight={700}>K</text>
      <text x={1387} y={56} fontSize={24} fontWeight={700} textAnchor="middle" dominantBaseline="central">Functional Classifications</text>
      {funcNames.map((n, i) => {
        const cy = (y(n) as number) + y.bandwidth() / 2;
        return (
          <g key={n}>
            <rect x={x(0)} y={y(n)} width={x(funcGenes[i]) - x(0)} height={y.bandwidth()} fill={funcColors[i]} stroke="#000" strokeWidth={1.2} />
            <line x1={x(funcGenes[i] - funcErr[i])} x2={x(funcGenes[i] + funcErr[i])} y1={cy} y2={cy} stroke="#000" strokeWidth={1.2} />
            <line x1={x(funcGenes[i] + funcErr[i])} x2={x(funcGenes[i] + funcErr[i])} y1={cy - 3} y2={cy + 3} stroke="#000" strokeWidth={1.2} />
            <line x1={1418} x2={x(0)} y1={cy} y2={cy} stroke="#000" strokeWidth={2} />
            <text x={1414} y={cy} fontSize={23.5} fontWeight={700} textAnchor="end" dominantBaseline="central">{n}</text>
          </g>
        );
      })}
      <line x1={x(0)} x2={x(0)} y1={83.5} y2={554} stroke="#000" strokeWidth={2} />
      <line x1={x(0) - 1} x2={x(120) + 1} y1={553.4} y2={553.4} stroke="#000" strokeWidth={2} />
      {funcTicks.map((t) => (
        <g key={t}>
          <line x1={x(t)} x2={x(t)} y1={553.4} y2={564} stroke="#000" strokeWidth={2} />
          <text x={x(t)} y={582} fontSize={24} fontWeight={700} textAnchor="middle" dominantBaseline="central">{t}</text>
        </g>
      ))}
      <text x={1543} y={609} fontSize={20} fontWeight={700} textAnchor="middle" dominantBaseline="central">Number of genes</text>
    </g>
  );
}

function Heatmap() {
  const x = d3.scaleLinear().domain([0, 609]).range([1125, 1734]);
  const y = d3.scaleBand().domain(heatNames).range([654, 1014.5]);
  const legend = d3.scaleBand<number>().domain(foldLevels).range([1117.4, 1729.7]);
  return (
    <g>
      <text x={1111} y={631} fontSize={30} fontWeight={700}>L</text>
      {heatRows.map((row, r) =>
        row.map((run, i) => {
          const start = i === 0 ? 0 : row[i - 1][0];
          return (
            <rect key={`${r}-${i}`} x={x(start)} y={y(heatNames[r])} width={x(run[0]) - x(start)} height={y.bandwidth()} fill={foldColor(run[1])} shapeRendering="crispEdges" />
          );
        }),
      )}
      <rect x={1124} y={653.3} width={612} height={362} fill="none" stroke="#111" strokeWidth={3} />
      {heatNames.map((n, i) => (
        <text key={n} x={1753} y={heatLabelY[i]} fontSize={24} fontWeight={700} dominantBaseline="central">{n}</text>
      ))}
      <rect x={1114.4} y={1033} width={618.6} height={27.7} fill="#000" />
      {foldLevels.map((f) => (
        <g key={f}>
          <rect x={legend(f)} y={1037.5} width={legend.bandwidth()} height={18.5} fill={foldColor(f)} />
          <line x1={(legend(f) as number) + legend.bandwidth() / 2} x2={(legend(f) as number) + legend.bandwidth() / 2} y1={1037} y2={1041} stroke="#000" strokeWidth={2.5} />
          <text x={(legend(f) as number) + legend.bandwidth() / 2 - 1} y={1078} fontSize={23} fontWeight={700} textAnchor="middle" dominantBaseline="central">{f}</text>
        </g>
      ))}
      <text x={1748.7} y={1048} fontSize={24.5} fontWeight={700} dominantBaseline="central">Fold Change</text>
    </g>
  );
}

export default function App() {
  return (
    <svg width={1904} height={1117} style={{ position: 'absolute', left: 0, top: 0, background: '#fff' }} fontFamily={FONT} fill="#111">
      {volcanoes.map((v) => <Volcano key={v.tag} v={v} />)}

      {/* shared axis arrows and labels */}
      <g stroke="#333" strokeWidth={2}>
        <line x1={51.6} x2={51.6} y1={503} y2={88} />
        <line x1={51.6} x2={51.6} y1={695} y2={1020} />
      </g>
      <path d={d3.line()([[51.6, 80], [57.6, 91], [45.6, 91]]) + 'Z'} fill="#222" />
      <path d={d3.line()([[51.6, 1030], [57.6, 1019], [45.6, 1019]]) + 'Z'} fill="#222" />
      <text transform="translate(46,605.5) rotate(-90)" fontSize={25} fontWeight={700} textAnchor="middle" dominantBaseline="central">
        -log<tspan fontSize={16} dy={5}>10</tspan><tspan dy={-5}>(P-value)</tspan>
      </text>
      <text x={299.5} y={1100} fontSize={25.5} fontWeight={700} textAnchor="middle" dominantBaseline="central">
        log<tspan fontSize={16} dy={5}>2</tspan><tspan dy={-5}>(Fold Change)</tspan>
      </text>

      <text x={546} y={36} fontSize={30} fontWeight={700}>I</text>
      <text x={545} y={614} fontSize={30} fontWeight={700}>J</text>
      <Venn
        title="Upregulated Genes"
        titleY={45.4}
        fills={upFills}
        counts={upCounts}
        unique={upUnique}
        bigSpots={[[810.4, 153.4], [970.4, 269], [906, 443.5], [715, 443.5], [652.5, 270.8]]}
        labelSpots={[[904.8, 80], [971, 181], [949, 540.5], [655.7, 539], [650.4, 180.7]]}
        dx={0}
        dy={0}
      />
      <Venn
        title="Downregulated Genes"
        titleY={600.3}
        fills={downFills}
        counts={downCounts}
        unique={downUnique}
        bigSpots={[[813.2, 707], [970.4, 824.6], [925.7, 1005], [709.6, 1004.3], [665, 825.7]]}
        labelSpots={[[903.2, 633.5], [970.4, 736.4], [947, 1099], [654, 1096.7], [649, 736.4]]}
        dx={4}
        dy={558}
      />

      <Functional />
      <Heatmap />
    </svg>
  );
}
